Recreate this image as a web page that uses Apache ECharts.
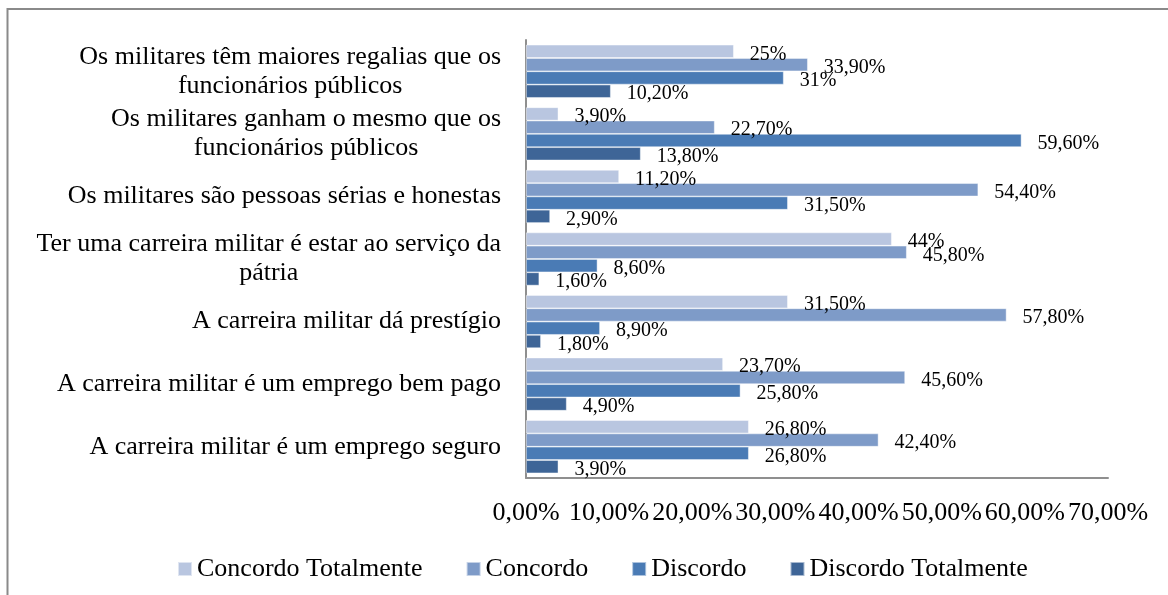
<!DOCTYPE html>
<html>
<head>
<meta charset="utf-8">
<script src="https://cdn.jsdelivr.net/npm/echarts@6/dist/echarts.min.js"></script>
<style>
  html, body { margin: 0; padding: 0; background: #ffffff; }
  #chart { width: 1168px; height: 595px; }
</style>
</head>
<body>
<div id="chart"></div>
<script>
const categories = [
  "Os militares têm maiores regalias que os\nfuncionários públicos",
  "Os militares ganham o mesmo que os\nfuncionários públicos",
  "Os militares são pessoas sérias e honestas",
  "Ter uma carreira militar é estar ao serviço da\npátria",
  "A carreira militar dá prestígio",
  "A carreira militar é um emprego bem pago",
  "A carreira militar é um emprego seguro"
];
const seriesNames = ["Concordo Totalmente", "Concordo", "Discordo", "Discordo Totalmente"];
const concordoTotalmente = [25, 3.9, 11.2, 44, 31.5, 23.7, 26.8];
const concordo = [33.9, 22.7, 54.4, 45.8, 57.8, 45.6, 42.4];
const discordo = [31, 59.6, 31.5, 8.6, 8.9, 25.8, 26.8];
const discordoTotalmente = [10.2, 13.8, 2.9, 1.6, 1.8, 4.9, 3.9];
const xTicks = { min: 0, max: 70, interval: 10 };

const colors = ['#b9c6e0', '#7e9bc8', '#4a7bb5', '#3e6597'];
const FONT = '"Liberation Serif", "Times New Roman", serif';

function pctLabel(v) {
  return Number.isInteger(v) ? v + '%' : v.toFixed(2).replace('.', ',') + '%';
}

const seriesData = [concordoTotalmente, concordo, discordo, discordoTotalmente];

const chart = echarts.init(document.getElementById('chart'), null, { renderer: 'canvas' });
chart.setOption({
  backgroundColor: '#ffffff',
  animation: false,
  color: colors,
  graphic: [{
    type: 'rect',
    shape: { x: 7.5, y: 9, width: 2000, height: 2000 },
    style: { fill: 'none', stroke: '#8a8a8a', lineWidth: 2 },
    silent: true
  }],
  grid: { left: 526, right: 60, top: 40, bottom: 117, containLabel: false },
  legend: {
    data: seriesNames,
    left: 172,
    top: 551,
    itemWidth: 14,
    itemHeight: 14,
    itemGap: 43,
    icon: 'rect',
    textStyle: { fontFamily: FONT, fontSize: 26, color: '#000' }
  },
  xAxis: {
    type: 'value',
    min: xTicks.min,
    max: xTicks.max,
    interval: xTicks.interval,
    axisLine: { show: true, lineStyle: { color: '#8f8f8f', width: 2 } },
    axisTick: { show: false },
    splitLine: { show: false },
    axisLabel: {
      margin: 22,
      fontFamily: FONT,
      fontSize: 26,
      color: '#000',
      formatter: v => v.toFixed(2).replace('.', ',') + '%'
    }
  },
  yAxis: {
    type: 'category',
    inverse: true,
    data: categories,
    axisLine: { show: true, lineStyle: { color: '#8f8f8f', width: 2 } },
    axisTick: { show: false },
    axisLabel: {
      margin: 25,
      align: 'right',
      formatter: v => v.split('\n').map(s => '{c|' + s + '}').join('\n'),
      rich: {
        c: { align: 'center', fontFamily: FONT, fontSize: 26, color: '#000', lineHeight: 29 }
      }
    }
  },
  series: seriesNames.map((name, i) => ({
    name: name,
    type: 'bar',
    data: seriesData[i],
    barGap: '0%',
    barCategoryGap: '15%',
    itemStyle: { color: colors[i], borderColor: 'rgba(255,255,255,0.55)', borderWidth: 0.8 },
    label: {
      show: true,
      position: 'right',
      distance: 16,
      offset: [0, 3],
      fontFamily: FONT,
      fontSize: 20,
      color: '#000',
      formatter: p => pctLabel(p.value)
    }
  }))
});
</script>
</body>
</html>
